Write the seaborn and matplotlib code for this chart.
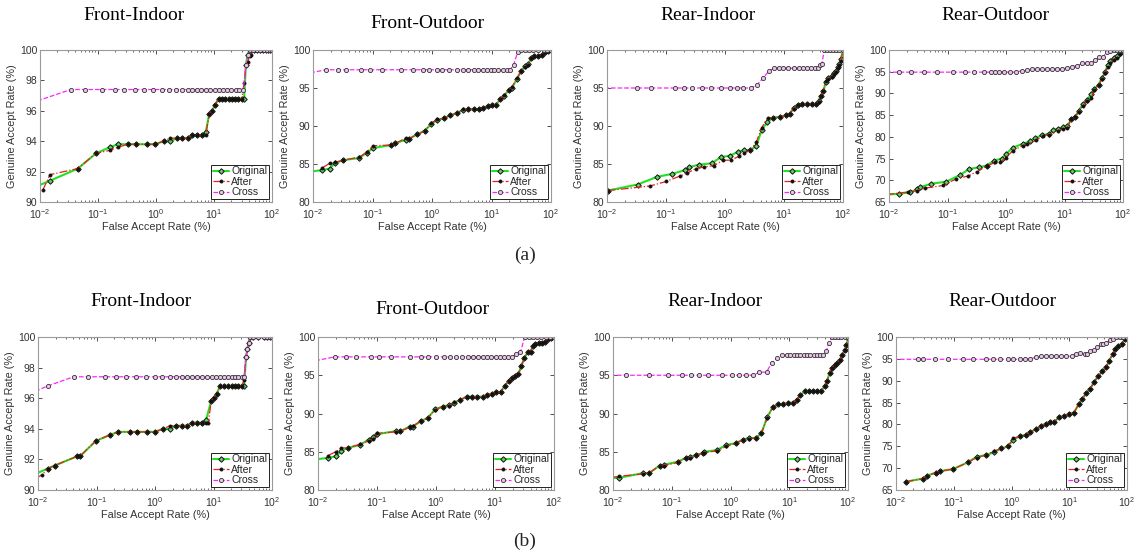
import numpy as np
import pandas as pd
import seaborn as sns
import matplotlib
matplotlib.use("Agg")
import matplotlib.pyplot as plt

nan = np.nan

# ---------------- data (FAR %, GAR %) ----------------
# (a) Front-Indoor
fi_a_far = [0.009, 0.0112, 0.0149, 0.045, 0.092, 0.16, 0.22, 0.33, 0.46, 0.69,
            0.96, 1.35, 1.75, 2.3, 2.8, 3.5, 4.2, 5.0, 6.1, 7.2,
            8.3, 9.2, 10.5, 12.0, 13.5, 15.5, 18.0, 20.5, 23.0, 26.0,
            30.0, 33.0, 35.5, 38.0, 41.0, 44.0, 48.0, 55.0, 62.0, 70.0,
            78.0, 86.0, 93.0, 100.0]
fi_a_orig = [91.05, nan, 91.4, 92.2, 93.2, 93.6, 93.8, 93.8, 93.8, 93.8,
             93.8, 94.0, 94.0, 94.2, 94.2, 94.2, 94.4, 94.4, 94.4, 94.6,
             95.8, 96.0, 96.4, 96.8, 96.8, 96.8, 96.8, 96.8, 96.8, 96.8,
             96.8, 96.8, 99.0, 99.7, 100, 100, 100, 100, 100, 100,
             100, 100, 100, 100]
fi_a_after = [nan, 90.8, 91.8, 92.2, 93.2, 93.4, 93.6, 93.8, 93.8, 93.8,
              93.8, 94.0, 94.2, 94.2, 94.2, 94.2, 94.4, 94.4, 94.4, 94.4,
              95.8, 96.0, 96.4, 96.8, 96.8, 96.8, 96.8, 96.8, 96.8, 96.8,
              96.8, 97.8, 99.0, 99.2, 99.6, 99.7, 100, 100, 100, 100,
              100, 100, 100, 100]
fi_a_cross_far = [0.009, 0.034, 0.06, 0.115, 0.2, 0.28, 0.43, 0.62, 0.9, 1.25,
                  1.7, 2.2, 2.8, 3.5, 4.2, 5.0, 6.0, 7.2, 8.6, 10.3,
                  12.3, 14.5, 17.0, 20.0, 23.5, 27.5, 32.0, 35.5, 39.0, 42.0,
                  47.0, 55.0, 63.0, 72.0, 82.0, 92.0, 100.0]
fi_a_cross = [96.65, 97.4, 97.4, 97.4, 97.4, 97.4, 97.4, 97.4, 97.4, 97.4,
              97.4, 97.4, 97.4, 97.4, 97.4, 97.4, 97.4, 97.4, 97.4, 97.4,
              97.4, 97.4, 97.4, 97.4, 97.4, 97.4, 97.4, 99.0, 99.7, 100,
              100, 100, 100, 100, 100, 100, 100]

# (a) Front-Outdoor
fo_a_far = [0.009, 0.0144, 0.0191, 0.0232, 0.032, 0.060, 0.081, 0.103, 0.208, 0.24,
            0.36, 0.41, 0.56, 0.76, 0.98, 1.23, 1.58, 2.0, 2.6, 3.35,
            4.1, 5.0, 6.2, 7.3, 8.6, 10.1, 12.0, 14.0, 16.4, 19.4,
            22.0, 26.8, 31.5, 36.8, 41.8, 45.8, 52.0, 61.5, 70.0, 78.5,
            89.0, 100.0]
fo_a_orig = [84.0, 84.2, 84.4, 85.1, 85.5, 85.8, 86.5, 87.1, 87.5, 87.7,
             88.2, 88.3, 88.9, 89.4, 90.3, 90.8, 91.0, 91.4, 91.7, 92.1,
             92.2, 92.2, 92.2, 92.4, 92.6, 92.8, 92.8, 93.5, 94.0, 94.7,
             95.0, 96.2, 97.2, 97.9, 98.1, 98.9, 99.2, 99.2, 99.3, 99.8,
             99.9, 100.0]
fo_a_after = [nan, 84.5, 85.1, 85.2, 85.5, 85.9, 86.6, 87.4, 87.5, 87.7,
              88.4, 88.3, 88.9, 89.3, 90.4, 90.9, 91.0, 91.4, 91.7, 92.2,
              92.2, 92.2, 92.2, 92.4, 92.6, 92.8, 92.8, 93.6, 94.1, 94.8,
              95.1, 96.3, 97.3, 97.8, 98.0, 99.0, 99.2, 99.2, 99.4, 99.8,
              99.9, 100.0]
fo_a_cross_far = [0.009, 0.0166, 0.0264, 0.0355, 0.065, 0.090, 0.142, 0.296, 0.48, 0.70,
                  0.90, 1.2, 1.5, 1.95, 2.6, 3.3, 4.1, 5.0, 6.0, 7.1,
                  8.3, 9.8, 11.2, 13.0, 15.5, 18.0, 20.5, 23.5, 27.5, 31.5,
                  36.5, 43.0, 50.0, 61.0, 75.0, 85.0, 100.0]
fo_a_cross = [97.0, 97.4, 97.4, 97.4, 97.4, 97.4, 97.4, 97.4, 97.4, 97.4,
              97.4, 97.4, 97.4, 97.4, 97.4, 97.4, 97.4, 97.4, 97.4, 97.4,
              97.4, 97.4, 97.4, 97.4, 97.4, 97.4, 97.4, 98.0, 99.7, 100,
              100, 100, 100, 100, 100, 100, 100]

# (a) Rear-Indoor
ri_a_orig_far = [0.0102, 0.033, 0.070, 0.126, 0.213, 0.25, 0.36, 0.60, 0.85, 1.23,
                 1.64, 2.07, 2.7, 3.4, 4.2, 5.2, 6.5, 8.7, 10.8, 12.6,
                 14.5, 17.0, 20.0, 24.5, 29.5, 35.0, 38.5, 42.0, 46.5, 51.0,
                 56.0, 64.0, 70.0, 75.0, 82.0, 87.0, 92.0, 100.0]
ri_a_orig = [81.5, 82.3, 83.3, 83.7, 84.2, 84.6, 84.9, 85.1, 85.9, 86.1,
             86.6, 86.8, 86.8, 87.4, 89.5, 90.5, 91.1, 91.2, 91.4, 91.6,
             92.4, 92.8, 92.9, 92.9, 92.9, 92.9, 93.3, 94.0, 94.6, 95.8,
             96.3, 96.6, 97.0, 97.2, 97.8, 98.2, 98.8, 100.0]
ri_a_after_far = [0.0102, 0.053, 0.101, 0.17, 0.23, 0.32, 0.44, 0.65, 0.93, 1.26,
                  1.7, 2.07, 2.7, 3.4, 4.2, 5.3, 6.5, 8.7, 10.8, 12.6,
                  14.5, 17.0, 20.0, 24.5, 29.5, 35.0, 38.5, 42.0, 46.5, 51.0,
                  56.0, 64.0, 70.0, 75.0, 82.0, 87.0, 92.0, 100.0]
ri_a_after = [81.5, 82.1, 82.7, 83.4, 83.8, 84.4, 84.6, 84.8, 85.5, 85.5,
              86.0, 86.4, 86.8, 87.9, 89.8, 91.1, 91.1, 91.2, 91.4, 91.6,
              92.3, 92.8, 92.9, 92.9, 92.9, 92.9, 93.2, 93.9, 94.6, 95.9,
              96.2, 96.5, 96.9, 97.1, 97.6, 98.0, 98.6, 100.0]
ri_a_cross_far = [0.009, 0.0322, 0.056, 0.144, 0.20, 0.275, 0.40, 0.58, 0.85, 1.2,
                  1.6, 2.05, 2.75, 3.5, 4.4, 5.5, 6.7, 8.1, 9.8, 11.9,
                  14.5, 17.7, 21.0, 24.5, 28.6, 33.0, 37.0, 41.0, 44.0, 48.0,
                  52.7, 60.0, 68.0, 77.0, 87.0, 100.0]
ri_a_cross = [95.0, 95.0, 95.0, 95.0, 95.0, 95.0, 95.0, 95.0, 95.0, 95.0,
              95.0, 95.0, 95.0, 95.4, 96.3, 97.2, 97.6, 97.6, 97.6, 97.6,
              97.6, 97.6, 97.6, 97.6, 97.6, 97.6, 97.6, 98.0, 98.2, 100,
              100, 100, 100, 100, 100, 100]

# (a) Rear-Outdoor
ro_a_orig_far = [0.009, 0.0148, 0.0226, 0.030, 0.0336, 0.053, 0.096, 0.163, 0.235, 0.35,
                 0.47, 0.62, 0.84, 1.0, 1.3, 1.93, 2.6, 3.15, 4.1, 5.5,
                 6.4, 7.6, 9.6, 11.2, 12.9, 15.2, 17.4, 20.7, 24.1, 28.5,
                 32.3, 38.2, 43.5, 49.8, 54.6, 60.6, 69.1, 78.7, 89.6, 100.0]
ro_a_orig = [66.7, 66.9, 67.2, 67.9, 68.4, 69.2, 69.7, 71.2, 72.6, 73.0,
             73.4, 74.5, 75.0, 76.0, 77.5, 78.4, 79.0, 79.7, 80.4, 80.7,
             81.6, 81.8, 82.2, 82.5, 84.0, 84.6, 86.0, 87.5, 88.5, 89.8,
             91.0, 92.0, 93.5, 95.0, 96.5, 97.5, 98.2, 98.6, 99.3, 100.0]
ro_a_after_far = [0.009, 0.021, 0.030, 0.041, 0.084, 0.139, 0.226, 0.324, 0.47, 0.65,
                  0.79, 1.0, 1.3, 1.93, 2.27, 3.27, 4.25, 5.5, 7.6, 9.6,
                  11.2, 12.9, 15.2, 17.4, 20.7, 24.1, 28.5, 32.3, 38.2, 43.5,
                  49.8, 54.6, 60.6, 69.1, 78.7, 89.6, 100.0]
ro_a_after = [66.7, 67.3, 67.6, 68.2, 68.8, 70.3, 71.0, 72.0, 73.3, 74.1,
              74.1, 75.2, 76.8, 78.0, 78.3, 79.2, 80.3, 80.5, 81.4, 81.8,
              82.0, 84.0, 84.5, 85.8, 87.2, 88.3, 88.9, 90.8, 92.0, 93.3,
              94.8, 96.0, 97.0, 97.8, 98.2, 99.0, 100.0]
ro_a_cross_far = [0.009, 0.0148, 0.024, 0.039, 0.065, 0.125, 0.198, 0.28, 0.42, 0.55,
                  0.65, 0.76, 0.92, 1.17, 1.48, 1.86, 2.27, 2.77, 3.35, 4.1,
                  5.0, 6.0, 7.4, 9.0, 11.0, 13.4, 16.3, 19.8, 24.1, 28.5,
                  33.6, 39.6, 46.4, 53.0, 60.0, 69.0, 78.0, 90.0, 100.0]
ro_a_cross = [94.9, 94.9, 94.9, 94.9, 94.9, 94.9, 94.9, 94.9, 94.9, 94.9,
              94.9, 94.9, 94.9, 94.9, 94.9, 95.2, 95.3, 95.6, 95.6, 95.6,
              95.6, 95.6, 95.6, 95.6, 95.9, 96.2, 96.3, 96.9, 96.9, 97.0,
              97.6, 98.4, 98.5, 99.6, 99.7, 100, 100, 100, 100]

# (b) Front-Indoor
fi_b_far = [0.009, 0.0119, 0.0146, 0.0193, 0.0466, 0.052, 0.097, 0.169, 0.235, 0.37,
            0.50, 0.72, 1.0, 1.38, 1.8, 2.3, 2.85, 3.5, 4.25, 5.2,
            6.3, 7.5, 8.2, 9.1, 10.0, 11.4, 12.9, 15.1, 17.5, 20.5,
            23.4, 26.7, 30.4, 33.3, 36.0, 38.0, 39.7, 42.4, 48.1, 58.7,
            72.0, 82.0, 93.0, 100.0]
fi_b_orig = [91.05, nan, 91.4, 91.6, 92.2, 92.2, 93.2, 93.6, 93.8, 93.8,
             93.8, 93.8, 93.8, 94.0, 94.0, 94.2, 94.2, 94.2, 94.4, 94.4,
             94.4, 94.6, nan, 95.8, 96.0, 96.3, 96.8, 96.8, 96.8, 96.8,
             96.8, 96.8, 96.8, 96.8, 98.7, 99.2, 99.6, 100, 100, 100,
             100, 100, 100, 100]
fi_b_after = [90.75, 91.0, 91.4, 91.6, 92.2, 92.2, 93.2, 93.6, 93.8, 93.8,
              93.8, 93.8, 93.8, 94.0, 94.2, 94.2, 94.2, 94.2, 94.4, 94.4,
              94.4, 94.4, 94.4, 95.8, 96.0, 96.3, 96.8, 96.8, 96.8, 96.8,
              96.8, 96.8, 96.8, 97.2, 98.7, 99.2, 99.6, 100, 100, 100,
              100, 100, 100, 100]
fi_b_cross_far = [0.009, 0.0146, 0.0408, 0.072, 0.139, 0.215, 0.318, 0.48, 0.70, 1.0,
                  1.34, 1.8, 2.3, 2.85, 3.5, 4.25, 5.2, 6.3, 7.7, 9.3,
                  11.0, 12.9, 15.1, 17.5, 20.5, 23.4, 26.7, 30.4, 33.3, 36.0,
                  37.2, 39.7, 42.4, 48.1, 58.7, 72.0, 82.0, 93.0, 100.0]
fi_b_cross = [96.45, 96.8, 97.4, 97.4, 97.4, 97.4, 97.4, 97.4, 97.4, 97.4,
              97.4, 97.4, 97.4, 97.4, 97.4, 97.4, 97.4, 97.4, 97.4, 97.4,
              97.4, 97.4, 97.4, 97.4, 97.4, 97.4, 97.4, 97.4, 97.4, 98.7,
              99.2, 99.6, 100, 100, 100, 100, 100, 100, 100]

# (b) Front-Outdoor
fo_b_far = [0.009, 0.0148, 0.020, 0.025, 0.032, 0.052, 0.072, 0.085, 0.10, 0.21,
            0.25, 0.36, 0.41, 0.55, 0.72, 0.98, 1.3, 1.65, 2.05, 2.6,
            3.3, 4.1, 5.0, 6.2, 7.4, 8.8, 10.5, 12.5, 14.5, 17.0,
            19.5, 22.0, 25.0, 28.0, 31.5, 36.0, 40.0, 44.0, 48.0, 55.0,
            62.0, 70.0, 78.0, 88.0, 100.0]
fo_b_orig = [84.0, 84.2, 84.4, 85.1, 85.5, 85.9, 86.6, 86.9, 87.3, 87.7,
             87.7, 88.3, 88.3, 89.0, 89.4, 90.6, 90.9, 91.1, 91.4, 91.8,
             92.2, 92.2, 92.2, 92.2, 92.4, 92.6, 92.8, 92.8, 93.6, 94.2,
             94.7, 94.9, 95.2, 96.2, 97.3, 98.0, 98.1, 98.8, 99.1, 99.2,
             99.2, 99.4, 99.8, 99.9, 100.0]
fo_b_after = [nan, 84.5, 85.0, 85.5, 85.5, 86.0, 86.4, 86.7, 87.4, 87.6,
              87.7, 88.2, 88.4, 89.0, 89.4, 90.5, 90.9, 91.0, 91.5, 91.8,
              92.2, 92.2, 92.2, 92.2, 92.4, 92.6, 92.8, 92.8, 93.6, 94.2,
              94.7, 94.9, 95.2, 96.2, 97.3, 98.0, 98.1, 98.8, 99.1, 99.2,
              99.2, 99.4, 99.8, 99.9, 100.0]
fo_b_cross_far = [0.009, 0.0192, 0.0295, 0.0436, 0.080, 0.108, 0.175, 0.36, 0.55, 0.73,
                  1.0, 1.35, 1.7, 2.15, 2.8, 3.5, 4.25, 5.2, 6.3, 7.4,
                  8.7, 10.3, 12.1, 14.1, 16.7, 19.5, 23.0, 27.0, 31.8, 37.6,
                  44.0, 51.6, 61.0, 72.5, 85.0, 100.0]
fo_b_cross = [96.9, 97.4, 97.4, 97.4, 97.4, 97.4, 97.4, 97.4, 97.4, 97.4,
              97.4, 97.4, 97.4, 97.4, 97.4, 97.4, 97.4, 97.4, 97.4, 97.4,
              97.4, 97.4, 97.4, 97.4, 97.4, 97.4, 97.8, 98.0, 100, 100,
              100, 100, 100, 100, 100, 100]

# (b) Rear-Indoor
ri_b_far = [0.009, 0.0126, 0.0324, 0.041, 0.0624, 0.073, 0.128, 0.173, 0.207, 0.255,
            0.34, 0.36, 0.58, 0.85, 1.23, 1.64, 2.07, 2.7, 3.35, 4.2,
            5.2, 6.5, 7.9, 9.6, 11.7, 13.6, 15.5, 18.4, 21.8, 25.4,
            29.7, 35.2, 40.0, 43.8, 48.6, 52.6, 59.2, 64.9, 72.0, 80.0,
            87.8, 94.0, 100.0]
ri_b_orig = [81.55, 81.6, 82.2, 82.2, 83.2, 83.3, 83.7, 84.2, 84.3, 84.6,
             84.8, 85.0, 85.2, 85.9, 86.1, 86.6, 86.8, 86.8, 87.4, 89.5,
             90.8, 91.2, 91.2, 91.4, 91.4, 91.8, 92.4, 92.9, 92.9, 92.9,
             92.9, 92.9, 93.6, 94.2, 95.3, 96.0, 96.3, 96.6, 97.0, 97.6,
             98.3, 98.9, 100.0]
ri_b_after = [81.6, 81.8, 82.1, 82.2, 83.2, 83.2, 83.6, 84.2, 84.2, 84.6,
              84.8, 84.9, 85.1, 85.7, 86.1, 86.6, 86.7, 86.8, 87.4, 89.4,
              90.8, 91.2, 91.2, 91.4, 91.4, 91.8, 92.4, 92.9, 92.9, 92.9,
              92.9, 92.9, 93.6, 94.2, 95.3, 96.0, 96.3, 96.6, 97.0, 97.6,
              98.3, 98.9, 100.0]
ri_b_cross_far = [0.009, 0.0164, 0.041, 0.0865, 0.152, 0.216, 0.29, 0.41, 0.73, 1.04,
                  1.4, 1.83, 2.43, 3.1, 4.1, 5.0, 6.1, 7.4, 9.0, 10.5,
                  12.0, 13.6, 15.5, 17.7, 20.1, 22.9, 26.1, 29.7, 33.8, 37.5,
                  42.7, 47.4, 54.0, 59.0, 67.4, 77.0, 87.8, 100.0]
ri_b_cross = [95.0, 95.0, 95.0, 95.0, 95.0, 95.0, 95.0, 95.0, 95.0, 95.0,
              95.0, 95.0, 95.0, 95.4, 95.4, 96.6, 97.2, 97.6, 97.6, 97.6,
              97.6, 97.6, 97.6, 97.6, 97.6, 97.6, 97.6, 97.6, 97.6, 97.6,
              98.2, 99.2, 100, 100, 100, 100, 100, 100]

# (b) Rear-Outdoor
ro_b_far = [0.0149, 0.029, 0.0347, 0.050, 0.0577, 0.098, 0.174, 0.248, 0.365, 0.49,
            0.67, 0.87, 1.07, 1.39, 1.75, 2.1, 2.7, 3.3, 3.9, 4.7,
            5.5, 6.6, 8.1, 9.9, 11.9, 14.6, 16.8, 19.7, 23.3, 26.8,
            31.5, 37.6, 44.0, 49.1, 56.3, 62.6, 70.7, 80.6, 92.0, 100.0]
ro_b_orig = [66.9, 67.6, 68.3, 69.0, 69.3, 69.8, 71.3, 72.6, 73.0, 73.6,
             74.5, 75.0, 76.5, 77.3, 77.6, 78.3, 78.9, 79.7, 80.2, 80.6,
             80.6, 81.6, 81.9, 82.4, 82.6, 84.6, 85.8, 87.2, 88.2, 89.7,
             91.0, 92.2, 93.2, 94.6, 96.0, 97.2, 98.0, 98.3, 99.5, 100.0]
ro_b_after = [66.9, 67.6, 68.3, 69.0, 69.3, 69.8, 71.3, 72.4, 73.0, 73.9,
              74.5, 75.0, 76.8, 77.3, 77.6, 78.3, 78.9, 79.7, 80.2, 80.6,
              80.6, 81.6, 81.9, 82.4, 82.6, 84.6, 85.8, 87.2, 88.2, 89.7,
              91.0, 92.2, 93.2, 94.6, 96.0, 97.2, 98.0, 98.3, 99.5, 100.0]
ro_b_cross_far = [0.009, 0.0243, 0.0297, 0.0472, 0.080, 0.146, 0.217, 0.36, 0.48, 0.64,
                  0.87, 1.07, 1.39, 1.7, 2.1, 2.62, 3.3, 4.0, 4.9, 6.0,
                  7.3, 8.9, 11.0, 13.0, 15.6, 18.4, 20.4, 23.3, 26.8, 30.6,
                  35.0, 38.6, 44.0, 50.5, 56.3, 64.5, 75.8, 86.7, 100.0]
ro_b_cross = [94.9, 94.9, 94.9, 94.9, 94.9, 94.9, 94.9, 94.9, 94.9, 94.9,
              94.9, 94.9, 94.9, 94.9, 94.9, 95.4, 95.6, 95.6, 95.6, 95.6,
              95.6, 95.6, 95.6, 96.0, 96.3, 96.2, 96.2, 96.9, 97.0, 97.6,
              98.3, 98.5, 98.6, 99.2, 99.6, 100, 100, 100, 100]

titles = ["Front-Indoor", "Front-Outdoor", "Rear-Indoor", "Rear-Outdoor"]
y_ranges = [(90, 100, 2), (80, 100, 5), (80, 100, 5), (65, 100, 5)]

# ---------------- style ----------------
sns.set_theme(style="ticks")
plt.rcParams["font.family"] = ["Liberation Sans", "DejaVu Sans"]
plt.rcParams["mathtext.default"] = "regular"

fig = plt.figure(figsize=(11.36, 5.58), dpi=100)
W, H = 1136, 558


def add_axes(left, right, top, bottom):
    return fig.add_axes([left / W, 1 - bottom / H, (right - left) / W, (bottom - top) / H])


def draw(ax, far, gar, **kw):
    d = pd.DataFrame({"far": far, "gar": gar}).dropna()
    sns.lineplot(data=d, x="far", y="gar", ax=ax, estimator=None, sort=False, **kw)


def panel(ax, orig_far, orig, after_far, after, cross_far, cross, yr):
    draw(ax, orig_far, orig, color="#22e022", linestyle="-", linewidth=1.5,
         marker="D", markersize=2.8, markerfacecolor="#66cc66",
         markeredgecolor="#111111", markeredgewidth=0.7, label="Original")
    draw(ax, after_far, after, color="#ee1c1c", linestyle="-.", linewidth=0.9,
         marker="o", markersize=2.3, markerfacecolor="#111111",
         markeredgecolor="#111111", markeredgewidth=0.5, label="After")
    draw(ax, cross_far, cross, color="#ff22ff", linestyle="--", linewidth=0.9,
         marker="o", markersize=3.0, markerfacecolor="#ecc4ec",
         markeredgecolor="#333333", markeredgewidth=0.6, label="Cross")
    ax.set_xscale("log")
    ax.set_xlim(1e-2, 1e2)
    ax.set_ylim(yr[0], yr[1])
    ax.set_yticks(np.arange(yr[0], yr[1] + 0.1, yr[2]))
    ax.set_xticks([1e-2, 1e-1, 1e0, 1e1, 1e2])
    ax.set_xlabel("False Accept Rate (%)", fontsize=7.8, color="#333333", labelpad=1)
    ax.set_ylabel("Genuine Accept Rate (%)", fontsize=7.8, color="#333333", labelpad=2)
    ax.tick_params(axis="both", which="both", direction="in", top=True, right=True,
                   labelsize=7.5, labelcolor="#333333", color="#333333", pad=2)
    ax.tick_params(axis="x", which="both", pad=3.5)
    ax.tick_params(which="major", length=3, width=0.6)
    ax.tick_params(which="minor", length=1.6, width=0.5)
    for s in ax.spines.values():
        s.set_color("#9a9a9a")
        s.set_linewidth(0.8)
    leg = ax.legend(loc="lower right", fontsize=7.5, frameon=True, fancybox=False,
                    edgecolor="#222222", framealpha=1, borderpad=0.15, labelspacing=0.05,
                    handlelength=1.6, handletextpad=0.2, borderaxespad=0.3)
    leg.get_frame().set_linewidth(0.7)


top_boxes = [(40, 272), (313, 551), (607, 843), (889, 1123)]
bot_boxes = [(38, 272), (318, 554), (613, 848), (896, 1127)]

top_data = [
    (fi_a_far, fi_a_orig, fi_a_far, fi_a_after, fi_a_cross_far, fi_a_cross),
    (fo_a_far, fo_a_orig, fo_a_far, fo_a_after, fo_a_cross_far, fo_a_cross),
    (ri_a_orig_far, ri_a_orig, ri_a_after_far, ri_a_after, ri_a_cross_far, ri_a_cross),
    (ro_a_orig_far, ro_a_orig, ro_a_after_far, ro_a_after, ro_a_cross_far, ro_a_cross),
]
bot_data = [
    (fi_b_far, fi_b_orig, fi_b_far, fi_b_after, fi_b_cross_far, fi_b_cross),
    (fo_b_far, fo_b_orig, fo_b_far, fo_b_after, fo_b_cross_far, fo_b_cross),
    (ri_b_far, ri_b_orig, ri_b_far, ri_b_after, ri_b_cross_far, ri_b_cross),
    (ro_b_far, ro_b_orig, ro_b_far, ro_b_after, ro_b_cross_far, ro_b_cross),
]

for (l, r), d, yr in zip(top_boxes, top_data, y_ranges):
    panel(add_axes(l, r, 50, 202), *d, yr)
for (l, r), d, yr in zip(bot_boxes, bot_data, y_ranges):
    panel(add_axes(l, r, 337, 490), *d, yr)

# titles (Times-like) placed as in the reference
title_pos_top = [(134, 15), (427, 23), (708, 15), (995, 15)]
title_pos_bot = [(141, 302), (432, 310), (715, 302), (1002, 302)]
for t, (x, y) in zip(titles, title_pos_top):
    fig.text(x / W, 1 - y / H, t, ha="center", va="center", fontsize=14,
             family="Liberation Serif", color="black")
for t, (x, y) in zip(titles, title_pos_bot):
    fig.text(x / W, 1 - y / H, t, ha="center", va="center", fontsize=14,
             family="Liberation Serif", color="black")

fig.text(525 / W, 1 - 255 / H, "(a)", ha="center", va="center", fontsize=14,
         family="Liberation Serif")
fig.text(525 / W, 1 - 541 / H, "(b)", ha="center", va="center", fontsize=14,
         family="Liberation Serif")

fig.savefig("out.png", dpi=100)
